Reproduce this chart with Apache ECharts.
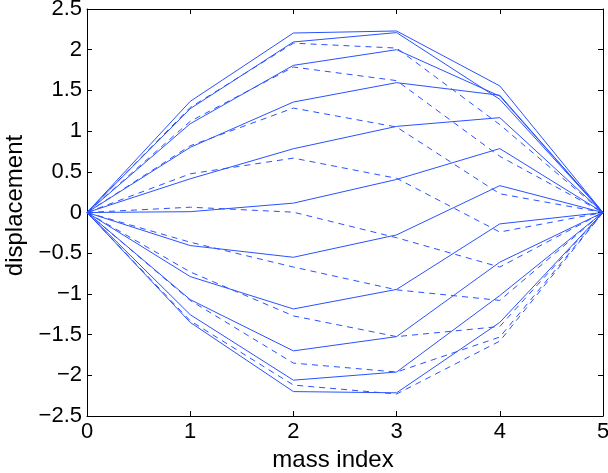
<!DOCTYPE html>
<html>
<head>
<meta charset="utf-8">
<script src="https://cdn.jsdelivr.net/npm/echarts@6/dist/echarts.min.js"></script>
<style>
  html, body { margin: 0; padding: 0; background: #ffffff; }
  #chart { width: 608px; height: 473px; }
</style>
</head>
<body>
<div id="chart"></div>
<script>
// mass positions (x axis)
var massIndex = [0, 1, 2, 3, 4, 5];

// solid snapshots: displacement at mass index 0..5
var solidLines = [
  [0, 1.365, 2.205, 2.23, 1.555, 0],
  [0, 1.275, 2.095, 2.21, 1.39, 0],
  [0, 1.09, 1.808, 2.0, 1.43, 0],
  [0, 0.80, 1.357, 1.595, 1.44, 0],
  [0, 0.414, 0.783, 1.058, 1.165, 0],
  [0, 0.01, 0.115, 0.406, 0.785, 0],
  [0, -0.406, -0.55, -0.275, 0.33, 0],
  [0, -0.787, -1.185, -0.945, -0.14, 0],
  [0, -1.07, -1.70, -1.525, -0.61, 0],
  [0, -1.255, -2.06, -1.96, -1.02, 0],
  [0, -1.35, -2.20, -2.215, -1.35, 0]
];

// dashed snapshots: displacement at mass index 0..5
var dashedLines = [
  [0, 1.29, 2.08, 2.02, 1.08, 0],
  [0, 1.12, 1.787, 1.62, 0.69, 0],
  [0, 0.82, 1.283, 1.05, 0.23, 0],
  [0, 0.475, 0.668, 0.42, -0.24, 0],
  [0, 0.065, 0.004, -0.31, -0.67, 0],
  [0, -0.365, -0.67, -0.95, -1.08, 0],
  [0, -0.73, -1.27, -1.525, -1.40, 0],
  [0, -1.08, -1.85, -1.96, -1.53, 0],
  [0, -1.33, -2.12, -2.23, -1.58, 0]
];

var xTicks = [0, 1, 2, 3, 4, 5];
var yTicks = [-2.5, -2, -1.5, -1, -0.5, 0, 0.5, 1, 1.5, 2, 2.5];

var LINE_COLOR = '#2a52ff';
var FONT = '"Liberation Sans", Arial, Helvetica, sans-serif';

function fmt(v) {
  var s = String(Math.round(v * 10) / 10);
  return s.replace('-', '\u2212');
}

function makeSeries(lines, dashed) {
  return lines.map(function (vals) {
    return {
      type: 'line',
      data: massIndex.map(function (x, i) { return [x, vals[i]]; }),
      symbol: 'none',
      silent: true,
      animation: false,
      lineStyle: { color: LINE_COLOR, width: 1, type: dashed ? [6, 5] : 'solid' }
    };
  });
}

var axisCommon = {
  type: 'value',
  axisLine: { show: true, onZero: false, lineStyle: { color: '#000', width: 1 } },
  axisTick: { show: true, inside: true, length: 5, lineStyle: { color: '#000', width: 1 } },
  splitLine: { show: false }
};

var chart = echarts.init(document.getElementById('chart'), null, { renderer: 'canvas' });
chart.setOption({
  animation: false,
  backgroundColor: '#ffffff',
  grid: { left: 87, right: 5, top: 9, bottom: 57, containLabel: false, outerBoundsMode: 'none' },
  xAxis: [
    Object.assign({}, axisCommon, {
      position: 'bottom', min: xTicks[0], max: xTicks[xTicks.length - 1], interval: 1,
      axisLabel: { show: true, color: '#000', fontFamily: FONT, fontSize: 22, margin: 5, formatter: fmt },
      name: 'mass index', nameLocation: 'middle', nameGap: 30,
      nameTextStyle: { color: '#000', fontFamily: FONT, fontSize: 24, padding: [0, 24, 0, 0] }
    }),
    Object.assign({}, axisCommon, {
      position: 'top', min: xTicks[0], max: xTicks[xTicks.length - 1], interval: 1,
      axisLabel: { show: false }
    })
  ],
  yAxis: [
    Object.assign({}, axisCommon, {
      position: 'left', min: yTicks[0], max: yTicks[yTicks.length - 1], interval: 0.5,
      axisLabel: { show: true, color: '#000', fontFamily: FONT, fontSize: 22, margin: 5, formatter: fmt },
      name: 'displacement', nameLocation: 'middle', nameGap: 55, nameRotate: 90,
      nameTextStyle: { color: '#000', fontFamily: FONT, fontSize: 24, padding: [0, 0, 0, 14] }
    }),
    Object.assign({}, axisCommon, {
      position: 'right', min: yTicks[0], max: yTicks[yTicks.length - 1], interval: 0.5,
      axisLabel: { show: false }
    })
  ],
  series: makeSeries(solidLines, false).concat(makeSeries(dashedLines, true))
});
</script>
</body>
</html>
